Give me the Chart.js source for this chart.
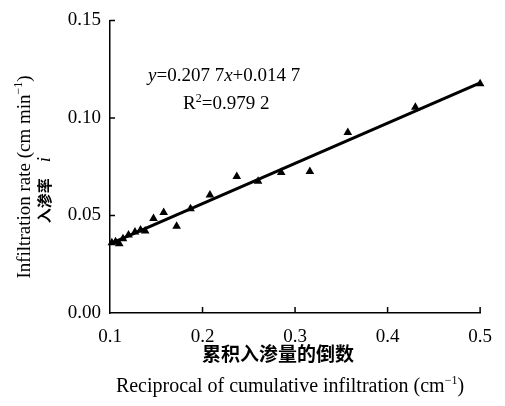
<!DOCTYPE html>
<html>
<head>
<meta charset="utf-8">
<script src="https://cdn.jsdelivr.net/npm/chart.js@4/dist/chart.umd.min.js"></script>
<style>
  html, body { margin: 0; padding: 0; background: #fff; }
  canvas { display: block; }
</style>
</head>
<body>
<canvas id="infChart" width="505" height="406"></canvas>
<script>
// reciprocal of cumulative infiltration (cm^-1)
const recipX = [0.102, 0.106, 0.110, 0.114, 0.120, 0.127, 0.133, 0.138, 0.147, 0.158,
                0.172, 0.187, 0.208, 0.237, 0.260, 0.285, 0.316, 0.357, 0.430, 0.500];
// infiltration rate i (cm min^-1)
const rateY = [0.036, 0.0365, 0.0355, 0.038, 0.040, 0.0415, 0.0425, 0.042, 0.0485, 0.0515,
               0.0445, 0.0535, 0.0605, 0.070, 0.0675, 0.072, 0.0725, 0.0925, 0.1055, 0.1175];
// fitted line end points
const fitX = [0.1, 0.5];
const fitY = [0.0355, 0.118];
const xTicks = [0.1, 0.2, 0.3, 0.4, 0.5];
const yTicks = [0.00, 0.05, 0.10, 0.15];

const serif = '"Liberation Serif", "DejaVu Serif", serif';
const cjk = '"Noto Sans CJK SC", sans-serif';

// draw a row of text pieces with own fonts, centred or left aligned
function drawRuns(ctx, runs, x, y, align) {
  let total = 0;
  runs.forEach(r => { ctx.font = r.font; r.w = ctx.measureText(r.t).width; total += r.w + (r.gap || 0); });
  let cx = align === 'center' ? x - total / 2 : x;
  ctx.textBaseline = 'alphabetic';
  ctx.textAlign = 'left';
  runs.forEach(r => {
    ctx.font = r.font;
    ctx.fillText(r.t, cx, y + (r.dy || 0));
    cx += r.w + (r.gap || 0);
  });
}

const extras = {
  id: 'extras',
  afterDraw(chart) {
    const ctx = chart.ctx;
    const xs = chart.scales.x, ys = chart.scales.y;
    const area = chart.chartArea;
    ctx.save();
    ctx.strokeStyle = '#000';
    ctx.fillStyle = '#000';
    ctx.lineWidth = 1.5;
    // inward tick marks
    ctx.beginPath();
    yTicks.slice(1).forEach(v => {
      const py = ys.getPixelForValue(v);
      ctx.moveTo(area.left, py); ctx.lineTo(area.left + 5, py);
    });
    xTicks.slice(1).forEach(v => {
      const px = xs.getPixelForValue(v);
      ctx.moveTo(px, area.bottom); ctx.lineTo(px, area.bottom - 6);
    });
    ctx.stroke();

    // equation
    const f19 = '19px ' + serif, i19 = 'italic 19px ' + serif;
    drawRuns(ctx, [
      { t: 'y', font: i19 }, { t: '=0.207 7', font: f19 },
      { t: 'x', font: i19 }, { t: '+0.014 7', font: f19 }
    ], 148, 81, 'left');
    drawRuns(ctx, [
      { t: 'R', font: f19 }, { t: '2', font: '12px ' + serif, dy: -7 },
      { t: '=0.979 2', font: f19 }
    ], 183, 109, 'left');

    // x axis titles
    ctx.font = 'bold 19px ' + cjk;
    ctx.textAlign = 'center';
    ctx.textBaseline = 'middle';
    ctx.fillText('累积入渗量的倒数', 278, 354);
    drawRuns(ctx, [
      { t: 'Reciprocal of cumulative infiltration (cm', font: '20px ' + serif },
      { t: '−1', font: '12px ' + serif, dy: -8 },
      { t: ')', font: '20px ' + serif }
    ], 290, 392, 'center');

    // y axis titles (rotated)
    ctx.save();
    ctx.translate(30, 177);
    ctx.rotate(-Math.PI / 2);
    drawRuns(ctx, [
      { t: 'Infiltration rate (cm min', font: f19 },
      { t: '−1', font: '12px ' + serif, dy: -8 },
      { t: ')', font: f19 }
    ], 0, 0, 'center');
    ctx.restore();
    ctx.save();
    ctx.translate(50, 190);
    ctx.rotate(-Math.PI / 2);
    drawRuns(ctx, [
      { t: '入渗率', font: 'bold 15px ' + cjk, gap: 16 },
      { t: 'i', font: i19 }
    ], 0, 0, 'center');
    ctx.restore();
    ctx.restore();
  }
};

new Chart(document.getElementById('infChart').getContext('2d'), {
  type: 'scatter',
  data: {
    datasets: [
      {
        label: 'observed',
        data: recipX.map((x, k) => ({ x: x, y: rateY[k] })),
        pointStyle: 'triangle',
        pointRadius: 5,
        backgroundColor: '#000',
        borderColor: '#000',
        borderWidth: 0,
        clip: false
      },
      {
        label: 'fit',
        type: 'line',
        data: fitX.map((x, k) => ({ x: x, y: fitY[k] })),
        borderColor: '#000',
        borderWidth: 3,
        pointRadius: 0,
        fill: false,
        clip: false
      }
    ]
  },
  options: {
    responsive: false,
    animation: false,
    layout: { padding: { top: 13, right: 19, left: 0, bottom: 0 } },
    plugins: { legend: { display: false }, tooltip: { enabled: false } },
    scales: {
      x: {
        type: 'linear',
        min: 0.1, max: 0.5,
        afterBuildTicks: s => { s.ticks = xTicks.map(v => ({ value: v })); },
        afterFit: s => { s.height = 93; },
        grid: { display: false, drawTicks: false },
        border: { display: true, color: '#000', width: 1.5 },
        ticks: {
          color: '#000', padding: 13,
          font: { family: serif, size: 19 },
          callback: v => v.toFixed(1)
        }
      },
      y: {
        type: 'linear',
        min: 0, max: 0.15,
        afterBuildTicks: s => { s.ticks = yTicks.map(v => ({ value: v })); },
        afterFit: s => { s.width = 110; },
        grid: { display: false, drawTicks: false },
        border: { display: true, color: '#000', width: 1.5 },
        ticks: {
          color: '#000', padding: 9,
          font: { family: serif, size: 19 },
          callback: v => v.toFixed(2)
        }
      }
    }
  },
  plugins: [extras]
});
</script>
</body>
</html>
